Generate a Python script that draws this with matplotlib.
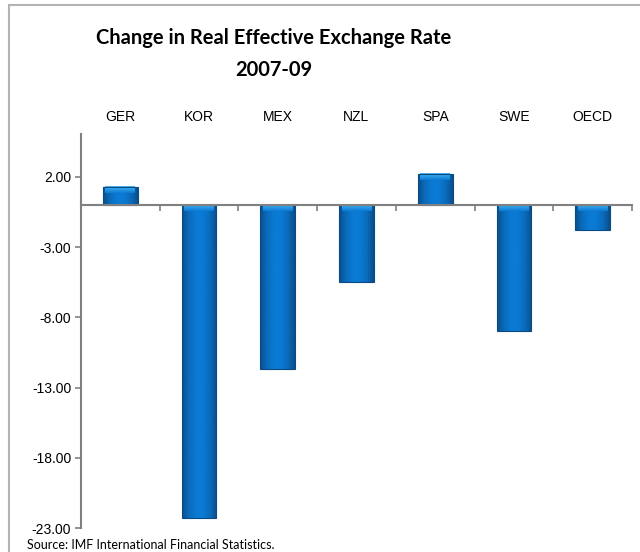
import numpy as np
import matplotlib.pyplot as plt
from matplotlib.patches import Rectangle
from matplotlib.colors import LinearSegmentedColormap
from matplotlib.ticker import FormatStrFormatter

countries = ["GER", "KOR", "MEX", "NZL", "SPA", "SWE", "OECD"]
reer_change = [1.3, -22.3, -11.7, -5.5, 2.2, -9.0, -1.8]
ytick_vals = [2, -3, -8, -13, -18, -23]

fig = plt.figure(figsize=(6.4, 5.52), dpi=100)
ax = fig.add_axes([81 / 640, 24 / 552, 551 / 640, 394 / 552])

# outer chart frame (only top and left visible)
fig.patches.append(Rectangle((9 / 640, -0.1), 1.2, 1.1 - 5 / 552,
                             transform=fig.transFigure, fill=False,
                             edgecolor="#b3b3b3", linewidth=1.5))

x = np.arange(len(countries))
bars = ax.bar(x, reer_change, width=0.44, color="#0a74c8",
              edgecolor="none", zorder=2)

# bevelled bar shading: darker sides, bright middle, light cap
side_cmap = LinearSegmentedColormap.from_list(
    "bevel", ["#0a4f8c", "#0a6cbc", "#0a7ad4", "#0a7ad4", "#0a6cbc", "#0a4f8c"])
cap_cmap = LinearSegmentedColormap.from_list("cap", ["#0a7ad4", "#4cb8f4"])
grad = np.linspace(0, 1, 64).reshape(1, -1)
vgrad = np.linspace(1, 0, 16).reshape(-1, 1)
for b in bars:
    x0, y0 = b.get_x(), b.get_y()
    w, h = b.get_width(), b.get_height()
    lo, hi = min(y0, y0 + h), max(y0, y0 + h)
    im = ax.imshow(grad, cmap=side_cmap, aspect="auto",
                   extent=(x0, x0 + w, lo, hi), zorder=3, interpolation="bilinear")
    im.set_clip_path(b)
    cap = min(0.45, hi - lo)
    ax.imshow(vgrad, cmap=cap_cmap, aspect="auto", interpolation="bilinear",
              extent=(x0 + 0.03, x0 + w - 0.03, hi - cap, hi), zorder=4)
    ax.add_patch(Rectangle((x0, lo), w, hi - lo, fill=False,
                           edgecolor="#0b4a80", linewidth=0.8, zorder=5))
ax.set_xlim(-0.5, len(countries) - 0.5)
ax.set_ylim(-23, 5.06)

for s in ["top", "right"]:
    ax.spines[s].set_visible(False)
ax.spines["left"].set_color("#808080")
ax.spines["left"].set_linewidth(1.5)
ax.spines["bottom"].set_position(("data", 0))
ax.spines["bottom"].set_color("#808080")
ax.spines["bottom"].set_linewidth(1.5)
ax.spines["bottom"].set_zorder(6)

ax.set_xticks(np.arange(len(countries)) + 0.5)
ax.set_xticklabels([])
ax.tick_params(axis="x", direction="out", length=4, width=1.2, color="#808080")

ax.set_yticks(ytick_vals)
ax.yaxis.set_major_formatter(FormatStrFormatter("%.2f"))
ax.tick_params(axis="y", direction="out", length=4, width=1.2, color="#808080",
               labelsize=10, pad=3)
for lab in ax.get_yticklabels():
    lab.set_fontfamily("Liberation Sans")

for i, c in enumerate(countries):
    ax.text(i, 1.025, c, transform=ax.get_xaxis_transform(), ha="center",
            va="bottom", fontsize=10, family="Liberation Sans")

fig.text(0.428, 0.932, "Change in Real Effective Exchange Rate", ha="center",
         va="center", fontsize=14.5, fontweight="bold", family="Lato")
fig.text(0.428, 0.873, "2007-09", ha="center", va="center", fontsize=14.5,
         fontweight="bold", family="Lato")
fig.text(27 / 640, 1 - 545 / 552, "Source: IMF International Financial Statistics.",
         ha="left", va="center", fontsize=9, family="Lato")

fig.savefig("out.png", dpi=100)
